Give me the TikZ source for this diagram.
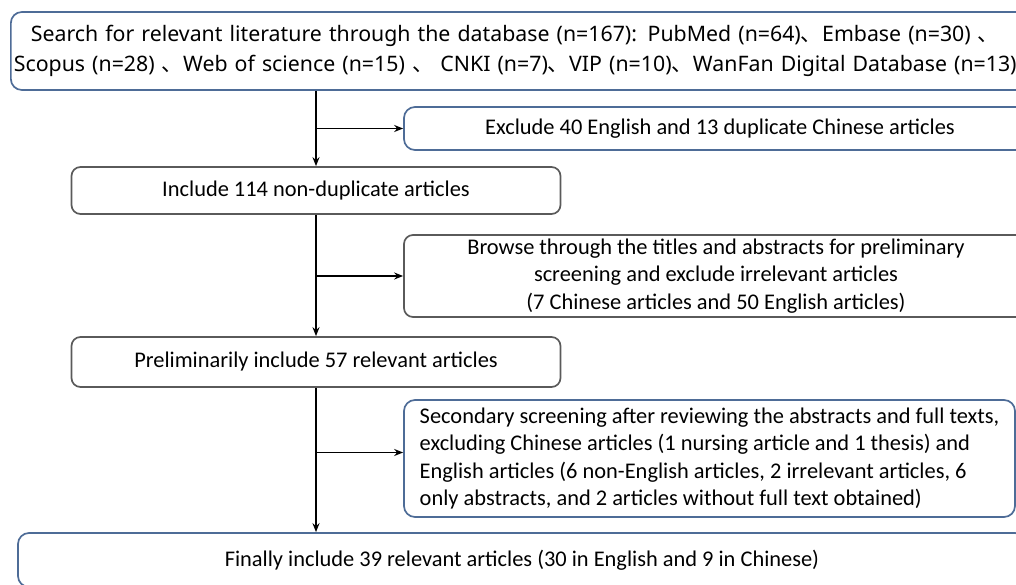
\documentclass[tikz,border=0pt]{standalone}
\usepackage{fontspec}
\setmainfont{Carlito}
\newfontfamily\yaheifont{Noto Sans}
\newfontfamily\cjkfont{Noto Sans CJK SC}
\newcommand{\dunhao}{{\cjkfont 、}}
\usetikzlibrary{arrows.meta}
\definecolor{bluebd}{HTML}{4E6C97}
\definecolor{graybd}{HTML}{5A5A5A}
\begin{document}
\begin{tikzpicture}[x=1pt,y=-1pt,
  box/.style={draw, line width=1.7pt, inner sep=0pt, font=\fontsize{22.4}{27.5}\selectfont, align=center},
  bluebox/.style={box, rounded corners=11pt, draw=bluebd},
  graybox/.style={box, rounded corners=9pt, draw=graybd},
  arr/.style={line width=1.8pt, -{Stealth[length=9pt,width=7pt]}}]
\clip (0,0) rectangle (1016,585);
\node[bluebox, text width=1034pt, inner xsep=3pt, minimum height=78pt, anchor=west, align=left,
  font=\yaheifont\fontsize{21.3}{29.5}\selectfont] (top) at (10,51)
  {\hspace*{17pt}Search for relevant literature through the database (n=167): PubMed (n=64)\dunhao Embase (n=30) \dunhao\\
   Scopus (n=28) \dunhao Web of science (n=15) \dunhao\ CNKI (n=7)\dunhao VIP (n=10)\dunhao WanFan Digital Database (n=13)};
\node[bluebox, minimum width=632pt, minimum height=43pt] (ex) at (720,128.5)
  {Exclude 40 English and 13 duplicate Chinese articles};
\node[graybox, minimum width=489pt, minimum height=47pt] (b2) at (316,190.5)
  {Include 114 non-duplicate articles};
\node[graybox, minimum width=624pt, minimum height=82pt] (b3) at (716,276)
  {Browse through the titles and abstracts for preliminary\\screening and exclude irrelevant articles\\(7 Chinese articles and 50 English articles)};
\node[graybox, minimum width=489pt, minimum height=50pt] (b4) at (316,362)
  {Preliminarily include 57 relevant articles};
\node[bluebox, minimum width=611pt, minimum height=117pt, align=left] (b5) at (709.5,458.5)
  {Secondary screening after reviewing the abstracts and full texts,\\excluding Chinese articles (1 nursing article and 1 thesis) and\\English articles (6 non-English articles, 2 irrelevant articles, 6\\only abstracts, and 2 articles without full text obtained)};
\node[bluebox, minimum width=1008pt, minimum height=54pt] (fin) at (522,560)
  {Finally include 39 relevant articles (30 in English and 9 in Chinese)};
\coordinate (b5in) at ([yshift=6pt]b5.west);
\draw[arr] (top.south -| b2.north) -- (b2.north);
\draw[arr] (b2.north |- ex.west) -- (ex.west);
\draw[arr] (b2.south) -- (b4.north);
\draw[arr] (b2.south |- b3.west) -- (b3.west);
\draw[arr] (b4.south) -- (b4.south |- fin.north);
\draw[arr] (b4.south |- b5in) -- (b5in);
\end{tikzpicture}
\end{document}
